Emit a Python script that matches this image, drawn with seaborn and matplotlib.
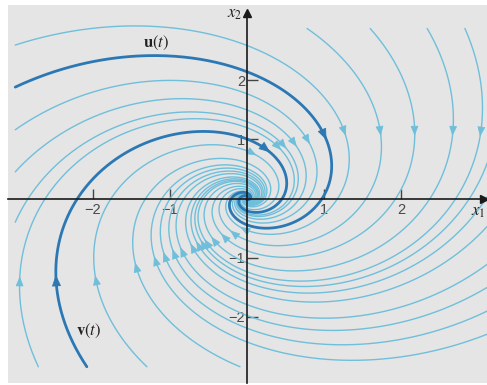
import numpy as np
import pandas as pd
import matplotlib
matplotlib.use("Agg")
import matplotlib.pyplot as plt
import seaborn as sns

# Linear system x' = A x  (stable spiral, clockwise rotation)
A = np.array([[-0.5, 1.0],
              [-1.0, -0.5]])

# Initial states of the background trajectories, taken on the plot border
left_y0 = [2.59, 1.16, 0.45, -0.40]                          # x1 = -3.01
top_x0 = [0.78, 1.60, 2.34, 2.83]                            # x2 = 2.87
right_y0 = [0.60, 0.03, -0.47, -1.11, -1.50, -1.90, -2.29]   # x1 = 3.12
bottom_x0 = [-2.71, -1.30, -0.09]                            # x2 = -2.84

# Highlighted solutions u(t) and v(t)
u0 = [-3.01, 1.88]
v0 = [-2.08, -2.84]

tick_vals = [-2, -1, 1, 2]

LIGHT = "#6fbfdb"
DARK = "#2c78b4"
BG = "#e5e5e5"


def step_matrix(mat, dt, terms=14):
    """exp(mat*dt) by its Taylor series."""
    m = np.eye(2)
    term = np.eye(2)
    for n in range(1, terms):
        term = term @ (mat * dt) / n
        m = m + term
    return m


def trajectory(p0, dt=0.01, r_min=0.012, t_max=14.0):
    m = step_matrix(A, dt)
    pts = [np.asarray(p0, dtype=float)]
    for _ in range(int(t_max / dt)):
        p = m @ pts[-1]
        pts.append(p)
        if np.hypot(*p) < r_min:
            break
    return np.array(pts)


def arrow_indices(P):
    x, y = P[:, 0], P[:, 1]
    r = np.hypot(x, y)
    idx = []
    s = y - np.minimum(1.1, 0.7 + 0.3 * x)
    c = np.where((s[:-1] > 0) & (s[1:] <= 0) & (x[:-1] > 0) & (r[:-1] > 0.4))[0]
    if len(c):
        idx.append(c[0])
    s = y + np.minimum(1.35, 0.45 + 0.45 * np.abs(x))
    c = np.where((s[:-1] < 0) & (s[1:] >= 0) & (x[:-1] < 0) & (r[:-1] > 0.4))[0]
    if len(c):
        idx.append(c[0])
    return idx


starts = ([(-3.01, y) for y in left_y0] + [(x, 2.87) for x in top_x0]
          + [(3.12, y) for y in right_y0] + [(x, -2.84) for x in bottom_x0])

light_paths = [trajectory(p) for p in starts]
u_path = trajectory(u0)
v_path = trajectory(v0)

light_df = pd.concat([pd.DataFrame({"x1": P[:, 0], "x2": P[:, 1], "id": i})
                      for i, P in enumerate(light_paths)], ignore_index=True)
dark_df = pd.concat([pd.DataFrame({"x1": P[:, 0], "x2": P[:, 1], "id": name})
                     for name, P in (("u", u_path), ("v", v_path))],
                    ignore_index=True)

sns.set_theme(style="white")
plt.rcParams["font.family"] = ["Liberation Sans", "DejaVu Sans"]
plt.rcParams["mathtext.fontset"] = "stix"

fig = plt.figure(figsize=(4.87, 3.85), dpi=100)
fig.patch.set_facecolor("white")
ax = fig.add_axes([8 / 487, 2 / 385, 479 / 487, 378 / 385])
ax.set_facecolor(BG)

sns.lineplot(data=light_df, x="x1", y="x2", units="id", estimator=None,
             sort=False, color=LIGHT, lw=1.0, ax=ax, legend=False)
sns.lineplot(data=dark_df, x="x1", y="x2", units="id", estimator=None,
             sort=False, color=DARK, lw=2.0, ax=ax, legend=False)


def add_arrows(P, color, scale):
    for i in arrow_indices(P):
        a = P[max(i - 4, 0)]
        b = P[min(i + 2, len(P) - 1)]
        ax.annotate("", xy=b, xytext=a,
                    arrowprops=dict(arrowstyle="-|>,head_length=0.55,head_width=0.22",
                                    color=color, lw=0.6, shrinkA=0, shrinkB=0,
                                    mutation_scale=scale))


for P in light_paths:
    add_arrows(P, LIGHT, 11)
add_arrows(u_path, DARK, 13)
add_arrows(v_path, DARK, 13)

# Axis limits: 77 px per unit horizontally, 59.25 px per unit vertically
ax.set_xlim(-3.104, 3.117)
ax.set_ylim(-3.114, 3.266)

for side in ("top", "right"):
    ax.spines[side].set_visible(False)
for side in ("left", "bottom"):
    ax.spines[side].set_position(("data", 0))
    ax.spines[side].set_color("#1a1a1a")
    ax.spines[side].set_linewidth(1.2)
    ax.spines[side].set_zorder(3)
ax.spines["left"].set_bounds(-3.12, 3.12)
ax.spines["bottom"].set_bounds(-3.104, 3.08)

ax.plot(0, 3.13, marker="^", color="#1a1a1a", markersize=6, clip_on=False, zorder=4)
ax.plot(3.08, 0, marker=">", color="#1a1a1a", markersize=6, clip_on=False, zorder=4)

ax.set_xticks(tick_vals)
ax.set_yticks(tick_vals)
ax.set_xticklabels([f"{v}".replace("-", "\u2212") for v in tick_vals])
ax.set_yticklabels([f"{v}".replace("-", "\u2212") for v in tick_vals])
ax.tick_params(axis="x", direction="in", length=7, width=1.0, color="#444444",
               labelsize=10.5, labelcolor="#4a4a4a", pad=3.5, bottom=True)
ax.tick_params(axis="y", direction="in", length=8, width=1.0, color="#444444",
               labelsize=10.5, labelcolor="#4a4a4a", pad=1.5, left=True)
ax.set_xlabel("")
ax.set_ylabel("")

ax.text(-0.06, 3.10, r"$x_2$", ha="right", va="center", fontsize=12, color="#222222")
ax.text(3.10, -0.24, r"$x_1$", ha="right", va="center", fontsize=12, color="#222222")
ax.text(-1.18, 2.62, r"$\mathbf{u}(t)$", ha="center", va="center", fontsize=12,
        color="#222222")
ax.text(-2.06, -2.24, r"$\mathbf{v}(t)$", ha="center", va="center", fontsize=12,
        color="#222222")

fig.savefig("out.png", dpi=100, facecolor="white")
